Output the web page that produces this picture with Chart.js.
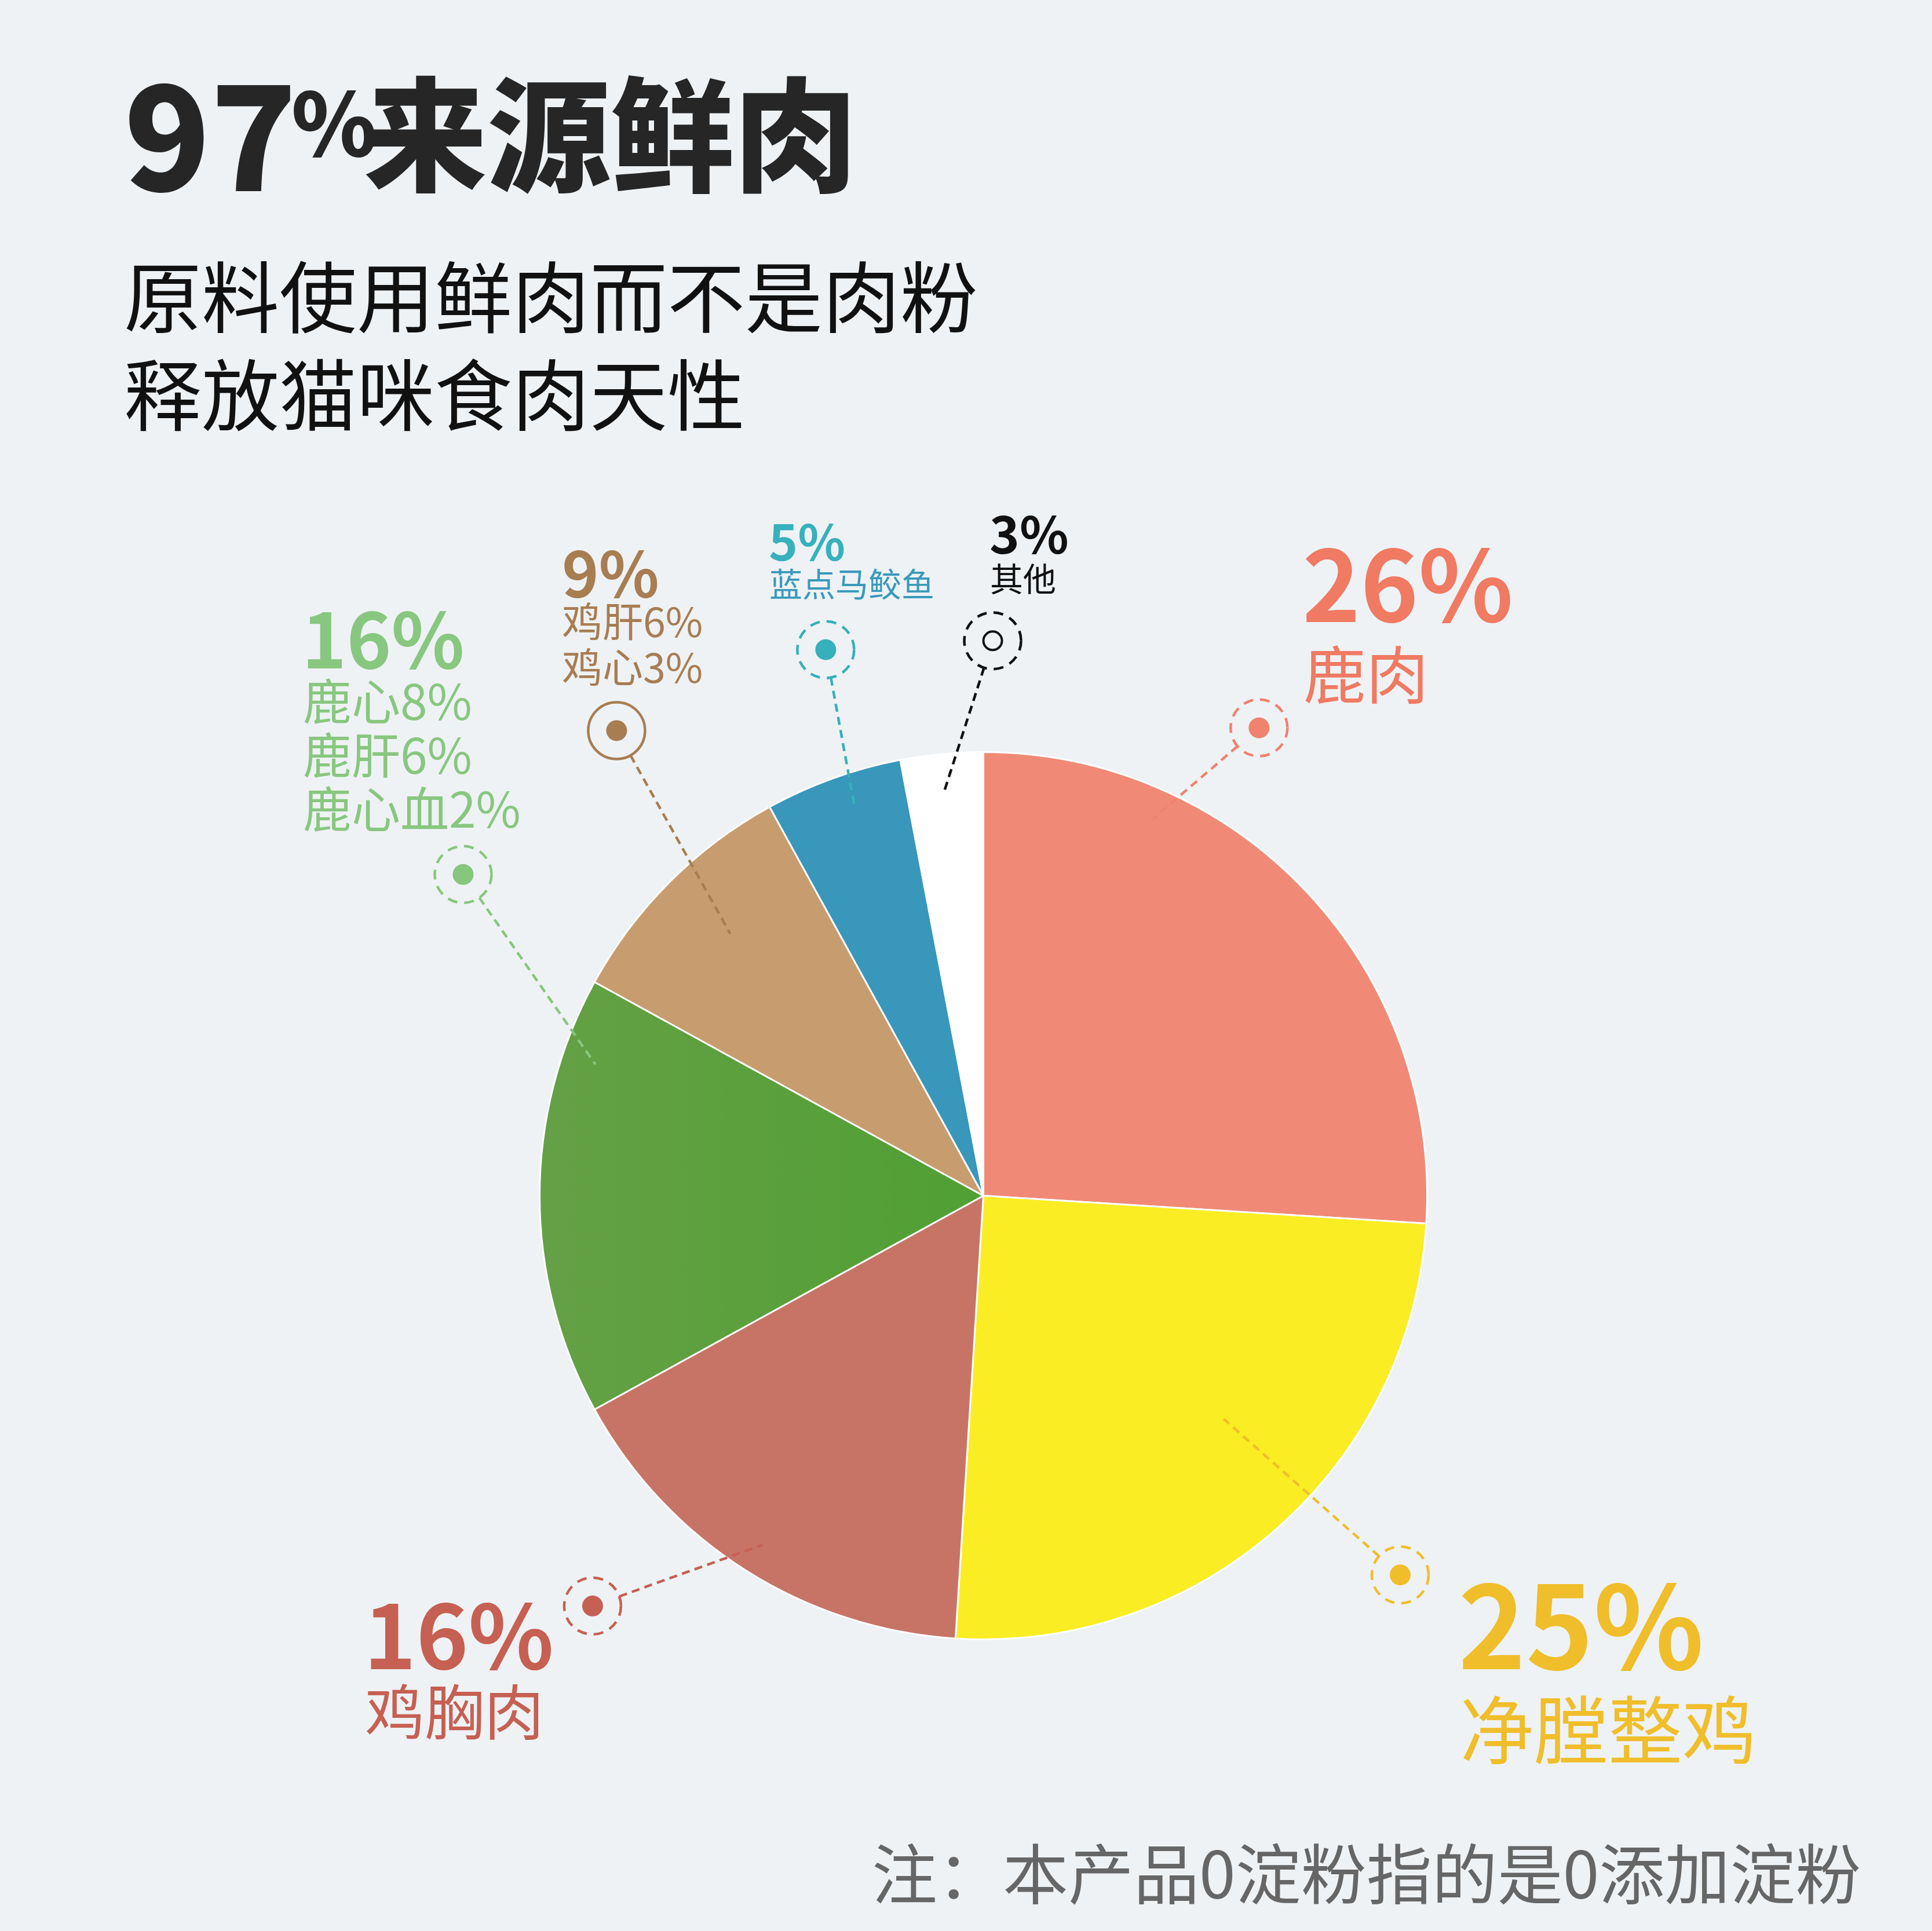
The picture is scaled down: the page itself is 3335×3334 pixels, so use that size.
<!DOCTYPE html>
<html lang="zh-CN">
<head>
<meta charset="utf-8">
<script src="https://cdn.jsdelivr.net/npm/chart.js@4.4.1/dist/chart.umd.min.js"></script>
<style>
  html, body { margin:0; padding:0; background:#eef2f5; }
  body { width:3335px; height:3334px; position:relative; overflow:hidden;
         font-family:"Noto Sans CJK SC","Noto Sans",sans-serif; }
  #pie { position:absolute; left:0; top:0; }
  .txt { position:absolute; white-space:nowrap; line-height:1; }
  .head { font-weight:900; color:#262626; }
  .sub { left:214px; top:422px; font-size:134px; line-height:169px; color:#111; }
  .note { left:1505px; top:3173px; font-size:113px; color:#666; }
  .pct { font-weight:700; }
</style>
</head>
<body>
<div class="txt head" style="left:214px;top:101px;font-size:245px;">97</div>
<div class="txt head" style="left:503px;top:130px;font-size:150px;">%</div>
<div class="txt head" style="left:628px;top:114px;font-size:213px;">来源鲜肉</div>
<div class="txt sub">原料使用鲜肉而不是肉粉<br>释放猫咪食肉天性</div>
<div class="txt note">注：本产品0淀粉指的是0添加淀粉</div>
<canvas id="pie" width="3335" height="3334"></canvas>
<script>
// data
const categories = ['鹿肉', '净膛整鸡', '鸡胸肉', '鹿心·鹿肝·鹿心血', '鸡肝·鸡心', '蓝点马鲛鱼', '其他'];
const shares = [26, 25, 16, 16, 9, 5, 3];
const labelLines = [
  ['鹿肉'],
  ['净膛整鸡'],
  ['鸡胸肉'],
  ['鹿心8%', '鹿肝6%', '鹿心血2%'],
  ['鸡肝6%', '鸡心3%'],
  ['蓝点马鲛鱼'],
  ['其他']
];

// styles
const sliceColors = ['#F08A76', '#FAED23', '#C77467', '#5A9F3E', '#C79C6E', '#3897BB', '#FFFFFF'];
const pctColors  = ['#F07A62', '#F0BE2A', '#C66052', '#88C77F', '#A87D52', '#37B1BC', '#111111'];
const nameColors = ['#F07A62', '#F0BE2A', '#C66052', '#88C77F', '#A87D52', '#3A9ABB', '#111111'];
const markColors = ['#F0826E', '#F0BE2A', '#C66052', '#86C77D', '#A87D52', '#36B0BA', '#111111'];

// label positions (page px)
const pctLayout = [
  {x: 2248, y: 915,  size: 170},
  {x: 2517, y: 2697, size: 198},
  {x: 628,  y: 2739, size: 153},
  {x: 521,  y: 1032, size: 131},
  {x: 970,  y: 930,  size: 108},
  {x: 1327, y: 888,  size: 85},
  {x: 1708, y: 874,  size: 88}
];
const nameLayout = [
  {x: 2250, y: 1105, size: 108, lh: 108},
  {x: 2520, y: 2917, size: 128, lh: 128},
  {x: 630,  y: 2899, size: 103, lh: 103},
  {x: 523,  y: 1160, size: 84,  lh: 93},
  {x: 970,  y: 1030, size: 70,  lh: 79},
  {x: 1328, y: 977,  size: 57,  lh: 57},
  {x: 1709, y: 968,  size: 57,  lh: 57}
];
// callout markers, polar relative to pie (deg clockwise from top, radius factor)
const markerLayout = [
  {ang: 30.5,  dist: 1.224, endAng: 24.2,  endDist: 0.931, ring: 'dash',  dot: 'fill'},
  {ang: 132.3, dist: 1.270, endAng: 132.9, endDist: 0.739, ring: 'dash',  dot: 'fill'},
  {ang: 223.6, dist: 1.277, endAng: 212.3, endDist: 0.931, ring: 'dash',  dot: 'fill'},
  {ang: 301.7, dist: 1.378, endAng: 288.7, endDist: 0.923, ring: 'dash',  dot: 'fill'},
  {ang: 321.75,dist: 1.335, endAng: 316,   endDist: 0.821, ring: 'solid', dot: 'fill'},
  {ang: 343.9, dist: 1.281, endAng: 341.7, endDist: 0.926, ring: 'dash',  dot: 'fill'},
  {ang: 0.96,  dist: 1.251, endAng: 354.4, endDist: 0.913, ring: 'dash',  dot: 'hollow'}
];

// text labels
shares.forEach((v, i) => {
  const p = pctLayout[i];
  const d = document.createElement('div');
  d.className = 'txt pct';
  d.textContent = v + '%';
  d.style.cssText = `left:${p.x}px;top:${p.y}px;font-size:${p.size}px;color:${pctColors[i]};`;
  document.body.appendChild(d);

  const n = nameLayout[i];
  const e = document.createElement('div');
  e.className = 'txt';
  e.innerHTML = labelLines[i].join('<br>');
  e.style.cssText = `left:${n.x}px;top:${n.y}px;font-size:${n.size}px;line-height:${n.lh}px;color:${nameColors[i]};`;
  document.body.appendChild(e);
});

function polar(cx, cy, r, deg) {
  const a = deg * Math.PI / 180;
  return {x: cx + r * Math.sin(a), y: cy - r * Math.cos(a)};
}

const calloutPlugin = {
  id: 'callouts',
  afterDatasetsDraw(chart) {
    const arc = chart.getDatasetMeta(0).data[0];
    const cx = arc.x, cy = arc.y, R = arc.outerRadius;
    const ctx = chart.ctx;
    const ringR = 49;
    markerLayout.forEach((m, i) => {
      const c = polar(cx, cy, R * m.dist, m.ang);
      const e = polar(cx, cy, R * m.endDist, m.endAng);
      const len = Math.hypot(e.x - c.x, e.y - c.y);
      const s = {x: c.x + (e.x - c.x) / len * ringR, y: c.y + (e.y - c.y) / len * ringR};
      ctx.save();
      ctx.strokeStyle = markColors[i];
      ctx.fillStyle = markColors[i];
      ctx.lineWidth = 4.5;
      ctx.lineCap = 'butt';
      // leader
      ctx.setLineDash([14, 9]);
      ctx.beginPath();
      ctx.moveTo(s.x, s.y);
      ctx.lineTo(e.x, e.y);
      ctx.stroke();
      // ring
      ctx.setLineDash(m.ring === 'dash' ? [17, 12] : []);
      ctx.beginPath();
      ctx.arc(c.x, c.y, ringR, 0, Math.PI * 2);
      ctx.stroke();
      // dot
      ctx.setLineDash([]);
      ctx.beginPath();
      if (m.dot === 'fill') {
        ctx.arc(c.x, c.y, 18, 0, Math.PI * 2);
        ctx.fill();
      } else {
        ctx.lineWidth = 4;
        ctx.arc(c.x, c.y, 16, 0, Math.PI * 2);
        ctx.stroke();
      }
      ctx.restore();
    });
  }
};

function sliceFill(c) {
  const i = c.dataIndex;
  if (i === 3 && c.chart.chartArea) {
    const a = c.chart.chartArea;
    const cx = (a.left + a.right) / 2;
    const r = (a.right - a.left) / 2;
    const g = c.chart.ctx.createLinearGradient(cx - r, 0, cx, 0);
    g.addColorStop(0, '#65A046');
    g.addColorStop(1, '#50A033');
    return g;
  }
  return sliceColors[i];
}

new Chart(document.getElementById('pie'), {
  type: 'pie',
  data: {
    labels: categories,
    datasets: [{
      data: shares,
      backgroundColor: sliceFill,
      borderColor: '#FFFFFF',
      borderWidth: 3
    }]
  },
  options: {
    responsive: false,
    animation: false,
    events: [],
    layout: {padding: {left: 930, right: 870, top: 1297, bottom: 502}},
    plugins: {legend: {display: false}, tooltip: {enabled: false}}
  },
  plugins: [calloutPlugin]
});
</script>
</body>
</html>
